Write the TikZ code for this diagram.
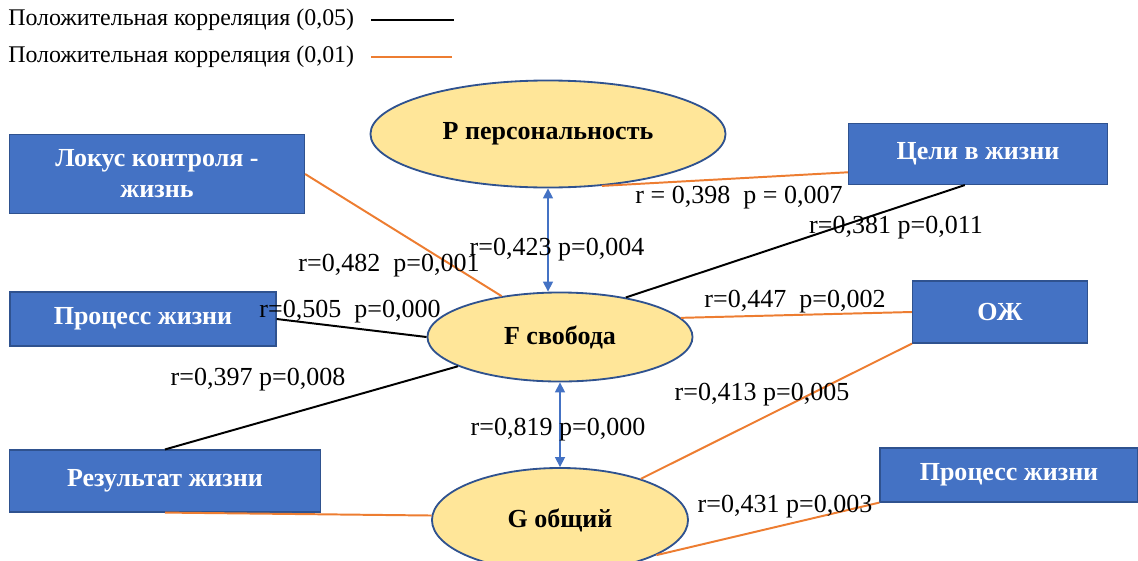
\documentclass[tikz,border=0pt]{standalone}
\usepackage{fontspec}
\setmainfont{Liberation Serif}
\usetikzlibrary{arrows.meta,shapes.geometric}
\definecolor{boxblue}{HTML}{4472C4}
\definecolor{boxedge}{HTML}{2F528F}
\definecolor{ovalfill}{HTML}{FFE699}
\definecolor{corrorange}{HTML}{ED7D31}

\begin{document}
\begin{tikzpicture}[x=0.025cm,y=-0.025cm,
		oval/.style={ellipse,draw=boxedge,line width=1.3pt,fill=ovalfill,inner sep=0pt,font=\fontsize{18.5}{22}\selectfont\bfseries},
		blok/.style={rectangle,draw=boxedge,line width=0.8pt,fill=boxblue,text=white,inner sep=0pt,align=center,font=\fontsize{18.5}{22}\selectfont\bfseries},
		lab/.style={font=\fontsize{18.5}{22}\selectfont,inner sep=0pt},
		leg/.style={font=\fontsize{17}{20}\selectfont,inner sep=0pt,anchor=west},
		p05/.style={line width=1.4pt,black},
		p01/.style={line width=1.4pt,corrorange},
		biarrow/.style={line width=1.1pt,boxblue,{Triangle[width=7pt,length=7pt]}-{Triangle[width=7pt,length=7pt]}}]
		\useasboundingbox (0,0) rectangle (1138,560);
		% legend
		\node[leg] (leg1) at (8,20) {Положительная корреляция (0,05)};
		\node[leg] (leg2) at (8,57) {Положительная корреляция (0,01)};
		\draw[p05] ([xshift=0.42cm]leg1.east) -- ++(83,0);
		\draw[p01] ([xshift=0.42cm]leg2.east) -- ++(81,0);
		% scales
		\node[oval,minimum width=8.875cm,minimum height=2.675cm] (P) at (548,134) {Р персональность};
		\node[oval,minimum width=6.625cm,minimum height=2.225cm] (F) at (560,337) {F свобода};
		\node[oval,minimum width=6.4cm,minimum height=2.6cm] (G) at (560,520) {G общий};
		% subscales
		\node[blok,minimum width=7.375cm,minimum height=1.975cm] (lokus) at (157,174) {Локус контроля -\\жизнь};
		\node[blok,minimum width=6.65cm,minimum height=1.35cm] (procL) at (143,319) {Процесс жизни};
		\node[blok,minimum width=7.775cm,minimum height=1.55cm] (result) at (165,481) {Результат жизни};
		\node[blok,minimum width=6.475cm,minimum height=1.525cm] (goals) at (978,154) {Цели в жизни};
		\node[blok,minimum width=4.375cm,minimum height=1.55cm] (ozh) at (1000,312) {ОЖ};
		\node[blok,minimum width=6.45cm,minimum height=1.35cm] (procR) at (1009,475) {Процесс жизни};
		% links
		\draw[p01] (lokus.east) -- (F.145);
		\draw[p05] (procL.east) -- (F.180);
		\draw[p05] (result.north) -- (F.196);
		\draw[p01] (result.south) -- (G.178);
		\draw[biarrow] (P.south) -- (P.south |- F.north);
		\draw[biarrow] (F.south) -- (F.south |- G.north);
		\draw[p01] (P.316) -- (goals.188);
		\draw[p05] (F.31) -- (goals.247);
		\draw[p01] (F.9) -- (ozh.west);
		\draw[p01] (G.27) -- (ozh.south west);
		\draw[p01] (G.340) -- (procR.south west);
		% values
		\node[lab] (r1) at (389,266) {r=0,482~ p=0,001};
		\node[lab] (r2) at (350,312) {r=0,505~ p=0,000};
		\node[lab] (r3) at (258,380) {r=0,397 p=0,008};
		\node[lab] (r4) at (557,250) {r=0,423 p=0,004};
		\node[lab] (r5) at (558,430) {r=0,819 p=0,000};
		\node[lab] (r6) at (739,198) {r = 0,398~ p = 0,007};
		\node[lab] (r7) at (896,228) {r=0,381 p=0,011};
		\node[lab] (r8) at (795,302) {r=0,447~ p=0,002};
		\node[lab] (r9) at (762,395) {r=0,413 p=0,005};
		\node[lab] (r10) at (785,507) {r=0,431 p=0,003};
\end{tikzpicture}
\end{document}
